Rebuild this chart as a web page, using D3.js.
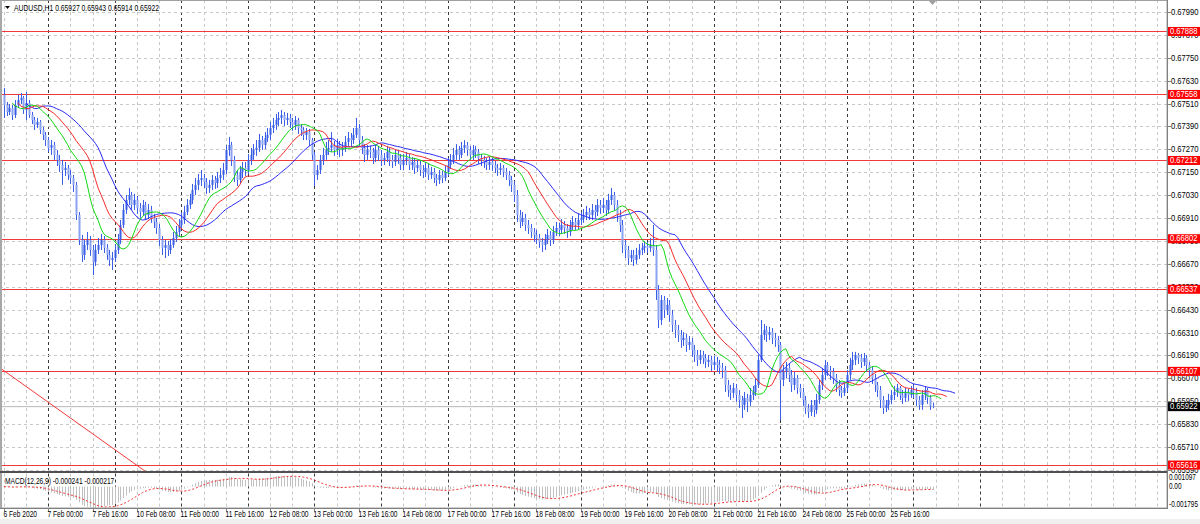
<!DOCTYPE html>
<html><head><meta charset="utf-8">
<script src="https://cdn.jsdelivr.net/npm/d3@7"></script>
<style>body{margin:0;background:#fff;overflow:hidden}svg{display:block;font-family:"Liberation Sans",Arial,sans-serif}</style>
</head><body><svg id="c" width="1200" height="524"></svg>
<script>
// ---------------- DATA ----------------
const symbolTitle = "AUDUSD,H1";
const lastBarOHLC = ["0.65927", "0.65943", "0.65914", "0.65922"];
const firstOpen = 0.67555;
const closes = [
0.67503,0.67466,0.67487,0.67450,0.67503,0.67529,0.67540,0.67477,
0.67513,0.67450,0.67424,0.67398,0.67414,0.67372,0.67346,0.67319,
0.67278,0.67293,0.67241,0.67215,0.67188,0.67162,0.67173,0.67136,
0.67120,0.67084,0.66926,0.66795,0.66717,0.66769,0.66795,0.66743,
0.66680,0.66743,0.66769,0.66795,0.66754,0.66717,0.66691,0.66701,
0.66743,0.66795,0.66874,0.66953,0.67005,0.67031,0.66979,0.67005,
0.66963,0.66942,0.66979,0.66926,0.66953,0.66911,0.66890,0.66858,
0.66795,0.66754,0.66769,0.66743,0.66769,0.66806,0.66837,0.66874,
0.66900,0.66942,0.66979,0.67005,0.67057,0.67084,0.67110,0.67120,
0.67099,0.67068,0.67084,0.67110,0.67094,0.67120,0.67136,0.67162,
0.67267,0.67293,0.67215,0.67136,0.67110,0.67152,0.67173,0.67162,
0.67215,0.67241,0.67267,0.67278,0.67319,0.67293,0.67330,0.67346,
0.67382,0.67398,0.67424,0.67435,0.67450,0.67424,0.67435,0.67414,
0.67398,0.67424,0.67382,0.67372,0.67346,0.67361,0.67319,0.67241,
0.67136,0.67162,0.67215,0.67241,0.67267,0.67278,0.67293,0.67267,
0.67293,0.67267,0.67278,0.67309,0.67330,0.67319,0.67346,0.67382,
0.67319,0.67278,0.67241,0.67267,0.67257,0.67225,0.67267,0.67241,
0.67215,0.67225,0.67257,0.67215,0.67204,0.67241,0.67225,0.67188,
0.67215,0.67225,0.67188,0.67204,0.67173,0.67188,0.67162,0.67152,
0.67173,0.67136,0.67152,0.67120,0.67110,0.67136,0.67120,0.67152,
0.67188,0.67215,0.67241,0.67267,0.67241,0.67278,0.67293,0.67267,
0.67241,0.67267,0.67257,0.67225,0.67215,0.67204,0.67188,0.67204,
0.67188,0.67173,0.67162,0.67173,0.67152,0.67136,0.67110,0.67084,
0.67031,0.66926,0.66890,0.66911,0.66874,0.66858,0.66837,0.66822,
0.66806,0.66785,0.66769,0.66795,0.66822,0.66795,0.66837,0.66858,
0.66848,0.66874,0.66858,0.66837,0.66874,0.66890,0.66874,0.66900,
0.66911,0.66926,0.66942,0.66926,0.66953,0.66942,0.66979,0.66963,
0.66979,0.66953,0.67005,0.67031,0.66979,0.66926,0.66874,0.66769,
0.66743,0.66701,0.66717,0.66691,0.66717,0.66743,0.66754,0.66764,
0.66754,0.66769,0.66743,0.66533,0.66376,0.66481,0.66429,0.66455,
0.66402,0.66350,0.66324,0.66298,0.66271,0.66282,0.66245,0.66261,
0.66219,0.66193,0.66167,0.66193,0.66177,0.66156,0.66167,0.66140,
0.66156,0.66140,0.66125,0.66114,0.66036,0.66009,0.65994,0.66020,
0.65983,0.65957,0.65931,0.65968,0.65947,0.65983,0.65999,0.66036,
0.66167,0.66298,0.66324,0.66298,0.66313,0.66282,0.66271,0.66245,
0.66062,0.66104,0.66125,0.66088,0.66036,0.66072,0.66020,0.65999,
0.65957,0.65915,0.65894,0.65931,0.65905,0.65957,0.66036,0.66088,
0.66140,0.66114,0.66104,0.66072,0.66036,0.66009,0.65994,0.66020,
0.66088,0.66140,0.66167,0.66193,0.66177,0.66156,0.66177,0.66140,
0.66114,0.66072,0.66036,0.66009,0.65957,0.65915,0.65931,0.65957,
0.65983,0.65999,0.66020,0.65983,0.65968,0.65999,0.65983,0.66009,
0.65999,0.65957,0.65931,0.65983,0.66009,0.65968,0.65927,0.65922];
const highs = [
0.67592,0.67518,0.67508,0.67503,0.67529,0.67555,0.67566,0.67550,
0.67571,0.67529,0.67466,0.67440,0.67435,0.67424,0.67388,0.67361,
0.67335,0.67319,0.67309,0.67267,0.67241,0.67215,0.67204,0.67188,
0.67162,0.67136,0.67099,0.66942,0.66822,0.66795,0.66837,0.66816,
0.66769,0.66774,0.66806,0.66827,0.66816,0.66774,0.66743,0.66733,
0.66774,0.66827,0.66900,0.66984,0.67031,0.67068,0.67047,0.67037,
0.67026,0.66989,0.67005,0.66995,0.66984,0.66974,0.66932,0.66911,
0.66879,0.66816,0.66795,0.66790,0.66801,0.66837,0.66869,0.66905,
0.66942,0.66974,0.67010,0.67037,0.67089,0.67120,0.67141,0.67162,
0.67141,0.67120,0.67110,0.67136,0.67131,0.67152,0.67173,0.67199,
0.67293,0.67335,0.67309,0.67236,0.67162,0.67183,0.67204,0.67204,
0.67246,0.67278,0.67298,0.67319,0.67351,0.67340,0.67361,0.67382,
0.67414,0.67435,0.67456,0.67466,0.67477,0.67466,0.67461,0.67456,
0.67435,0.67445,0.67435,0.67403,0.67388,0.67382,0.67377,0.67330,
0.67257,0.67188,0.67241,0.67278,0.67309,0.67319,0.67361,0.67314,
0.67325,0.67314,0.67309,0.67340,0.67361,0.67356,0.67382,0.67435,
0.67403,0.67340,0.67298,0.67293,0.67288,0.67278,0.67293,0.67288,
0.67267,0.67251,0.67288,0.67278,0.67241,0.67267,0.67267,0.67246,
0.67246,0.67257,0.67246,0.67230,0.67225,0.67215,0.67209,0.67188,
0.67204,0.67194,0.67178,0.67173,0.67141,0.67162,0.67157,0.67183,
0.67225,0.67246,0.67278,0.67298,0.67288,0.67309,0.67319,0.67309,
0.67288,0.67293,0.67288,0.67272,0.67246,0.67236,0.67225,0.67230,
0.67225,0.67209,0.67194,0.67199,0.67188,0.67173,0.67157,0.67131,
0.67104,0.67057,0.66953,0.66942,0.66932,0.66900,0.66879,0.66858,
0.66848,0.66827,0.66806,0.66827,0.66853,0.66842,0.66869,0.66890,
0.66885,0.66905,0.66895,0.66879,0.66900,0.66921,0.66911,0.66932,
0.66942,0.66958,0.66974,0.66963,0.66984,0.66979,0.67010,0.67005,
0.67016,0.67005,0.67037,0.67068,0.67047,0.67005,0.66953,0.66900,
0.66795,0.66764,0.66743,0.66743,0.66754,0.66774,0.66780,0.66790,
0.66785,0.66806,0.66874,0.66769,0.66559,0.66507,0.66502,0.66491,
0.66481,0.66429,0.66376,0.66350,0.66324,0.66313,0.66303,0.66292,
0.66282,0.66245,0.66219,0.66219,0.66214,0.66198,0.66193,0.66188,
0.66188,0.66183,0.66167,0.66151,0.66135,0.66062,0.66036,0.66046,
0.66041,0.66009,0.65978,0.65999,0.65989,0.66020,0.66030,0.66072,
0.66193,0.66376,0.66355,0.66345,0.66340,0.66334,0.66308,0.66292,
0.66261,0.66140,0.66156,0.66146,0.66114,0.66104,0.66088,0.66041,
0.66020,0.65978,0.65936,0.65957,0.65957,0.65989,0.66062,0.66125,
0.66167,0.66156,0.66135,0.66125,0.66093,0.66062,0.66030,0.66046,
0.66114,0.66177,0.66209,0.66209,0.66203,0.66198,0.66203,0.66193,
0.66156,0.66135,0.66093,0.66051,0.66030,0.65978,0.65957,0.65989,
0.66009,0.66030,0.66041,0.66030,0.66009,0.66020,0.66015,0.66030,
0.66036,0.66020,0.65978,0.66009,0.66030,0.66020,0.65983,0.65943];
const lows = [
0.67435,0.67445,0.67450,0.67424,0.67435,0.67487,0.67508,0.67456,
0.67424,0.67435,0.67403,0.67372,0.67382,0.67351,0.67319,0.67288,
0.67257,0.67241,0.67215,0.67183,0.67152,0.67084,0.67131,0.67110,
0.67089,0.67047,0.66900,0.66769,0.66680,0.66691,0.66743,0.66712,
0.66612,0.66659,0.66722,0.66743,0.66727,0.66691,0.66659,0.66638,
0.66680,0.66722,0.66774,0.66858,0.66932,0.66979,0.66953,0.66953,
0.66932,0.66911,0.66921,0.66900,0.66905,0.66885,0.66858,0.66827,
0.66764,0.66717,0.66701,0.66712,0.66722,0.66754,0.66785,0.66816,
0.66853,0.66879,0.66926,0.66958,0.66984,0.67031,0.67057,0.67078,
0.67068,0.67037,0.67042,0.67057,0.67063,0.67068,0.67094,0.67110,
0.67141,0.67236,0.67183,0.67099,0.67078,0.67089,0.67120,0.67131,
0.67141,0.67188,0.67215,0.67236,0.67257,0.67267,0.67272,0.67309,
0.67319,0.67356,0.67372,0.67393,0.67403,0.67393,0.67398,0.67382,
0.67367,0.67372,0.67351,0.67340,0.67319,0.67319,0.67288,0.67215,
0.67078,0.67110,0.67141,0.67188,0.67215,0.67241,0.67257,0.67236,
0.67241,0.67230,0.67236,0.67257,0.67283,0.67288,0.67298,0.67330,
0.67288,0.67246,0.67204,0.67215,0.67225,0.67194,0.67204,0.67209,
0.67183,0.67188,0.67204,0.67183,0.67173,0.67183,0.67194,0.67162,
0.67162,0.67188,0.67162,0.67162,0.67141,0.67152,0.67131,0.67120,
0.67125,0.67110,0.67115,0.67094,0.67078,0.67089,0.67094,0.67104,
0.67131,0.67167,0.67194,0.67215,0.67215,0.67225,0.67251,0.67236,
0.67215,0.67215,0.67225,0.67194,0.67183,0.67173,0.67162,0.67162,
0.67157,0.67146,0.67131,0.67136,0.67125,0.67110,0.67078,0.67047,
0.66995,0.66890,0.66858,0.66869,0.66843,0.66827,0.66806,0.66785,
0.66774,0.66754,0.66733,0.66743,0.66774,0.66764,0.66774,0.66816,
0.66816,0.66827,0.66827,0.66806,0.66816,0.66848,0.66848,0.66853,
0.66874,0.66885,0.66900,0.66900,0.66900,0.66911,0.66921,0.66932,
0.66937,0.66921,0.66932,0.66979,0.66948,0.66890,0.66837,0.66727,
0.66701,0.66664,0.66680,0.66659,0.66670,0.66696,0.66717,0.66727,
0.66727,0.66733,0.66712,0.66481,0.66334,0.66350,0.66387,0.66402,
0.66366,0.66313,0.66282,0.66261,0.66230,0.66240,0.66209,0.66219,
0.66183,0.66156,0.66135,0.66146,0.66146,0.66125,0.66130,0.66109,
0.66114,0.66104,0.66093,0.66072,0.65999,0.65973,0.65957,0.65968,
0.65947,0.65915,0.65863,0.65905,0.65894,0.65926,0.65957,0.65978,
0.66020,0.66156,0.66271,0.66261,0.66271,0.66250,0.66235,0.66209,
0.65852,0.66030,0.66072,0.66051,0.65999,0.66009,0.65989,0.65968,
0.65926,0.65884,0.65863,0.65873,0.65868,0.65884,0.65936,0.66009,
0.66062,0.66083,0.66062,0.66041,0.65999,0.65978,0.65968,0.65978,
0.65999,0.66062,0.66114,0.66140,0.66146,0.66125,0.66135,0.66104,
0.66072,0.66041,0.65999,0.65973,0.65915,0.65884,0.65894,0.65905,
0.65936,0.65957,0.65973,0.65957,0.65936,0.65947,0.65952,0.65968,
0.65968,0.65926,0.65905,0.65905,0.65957,0.65936,0.65905,0.65914];

const priceTicks = [0.67990,0.67870,0.67750,0.67630,0.67510,0.67390,0.67270,0.67150,0.67030,0.66910,0.66790,0.66670,0.66550,0.66430,0.66310,0.66190,0.66070,0.65950,0.65830,0.65710,0.65590];
const levelLines = [0.67888,0.67558,0.67212,0.66802,0.66537,0.66107,0.65616];
const lastPrice = 0.65922;
const trendLine = [{bar:-1.4, price:0.66125},{bar:60, price:0.65490}];
const xTickLabels = ["6 Feb 2020","7 Feb 00:00","7 Feb 16:00","10 Feb 08:00","11 Feb 00:00","11 Feb 16:00","12 Feb 08:00","13 Feb 00:00","13 Feb 16:00","14 Feb 08:00","17 Feb 00:00","17 Feb 16:00","18 Feb 08:00","19 Feb 00:00","19 Feb 16:00","20 Feb 08:00","21 Feb 00:00","21 Feb 16:00","24 Feb 08:00","25 Feb 00:00","25 Feb 16:00"];
const xTickBars = [0,16,32,48,64,80,96,112,128,144,160,176,192,208,224,240,256,272,288,304,320];
const daySeparatorBars = [16,40,64,88,112,136,160,184,208,232,256,280,304,328,352];
const alligator = [ // Bill Williams Alligator: period, shift, colour
  {name:"jaw", period:13, shift:8, color:"#2a2af5"},
  {name:"teeth", period:8, shift:5, color:"#f52a2a"},
  {name:"lips", period:5, shift:3, color:"#12d812"}];
const macdParams = {fast:12, slow:26, signal:9};
const macdLabel = "MACD(12,26,9) -0.000241 -0.000217";
const macdTicks = [0.001097, 0, -0.001795];
const macdTickLabels = ["0.001097","0.00","-0.001795"];

// ---------------- LAYOUT ----------------
const svg = d3.select("#c");
const plotL = 0, plotR = 1167, mainT = 0, mainB = 471, macdT = 473.5, macdB = 508;
const barStep = 2.773, bar0X = 3.9;
const N = closes.length;
const opens = closes.map((c,i)=> i===0 ? firstOpen : closes[i-1]);
const x = d3.scaleLinear().domain([0, 420]).range([bar0X, bar0X + 420*barStep]);
const y = d3.scaleLinear().domain([0.65590, 0.67990]).range([470, 12]);
const ym = d3.scaleLinear().domain([-0.001795, 0.001097]).range([macdB, macdT]);

svg.append("rect").attr("width",1200).attr("height",524).attr("fill","#fff");
svg.append("rect").attr("x",0).attr("y",519).attr("width",1200).attr("height",5).attr("fill","#f0f0f0");

const defs = svg.append("defs");
defs.append("clipPath").attr("id","mainClip").append("rect").attr("x",plotL).attr("y",mainT).attr("width",plotR-plotL).attr("height",mainB-mainT);
defs.append("clipPath").attr("id","macdClip").append("rect").attr("x",plotL).attr("y",macdT).attr("width",plotR-plotL).attr("height",macdB-macdT);

// grid
const grid = svg.append("g");
const gridBars = d3.range(0, 421, 8).filter(b => x(b) < plotR - 1);
[[mainT, mainB],[macdT, macdB]].forEach(([t,b])=>{
  grid.selectAll(null).data(gridBars.filter(g=>!daySeparatorBars.includes(g))).enter().append("line")
    .attr("x1",d=>Math.round(x(d))+0.5).attr("x2",d=>Math.round(x(d))+0.5).attr("y1",t).attr("y2",b)
    .attr("stroke","#c8c8c8").attr("stroke-dasharray","3,3");
  grid.selectAll(null).data(daySeparatorBars).enter().append("line")
    .attr("x1",d=>Math.round(x(d))+0.5).attr("x2",d=>Math.round(x(d))+0.5).attr("y1",t).attr("y2",b)
    .attr("stroke","#3a3a3a").attr("stroke-dasharray","3,3");
});
grid.selectAll(null).data(priceTicks).enter().append("line")
  .attr("x1",plotL).attr("x2",plotR).attr("y1",d=>Math.round(y(d))+0.5).attr("y2",d=>Math.round(y(d))+0.5)
  .attr("stroke","#c8c8c8").attr("stroke-dasharray","3,3");

// main panel objects
const main = svg.append("g").attr("clip-path","url(#mainClip)");
main.append("line").attr("x1",plotL).attr("x2",plotR).attr("y1",y(lastPrice)).attr("y2",y(lastPrice))
  .attr("stroke","#b8b8b8").attr("stroke-width",1);
main.selectAll(null).data(levelLines).enter().append("line")
  .attr("x1",plotL).attr("x2",plotR).attr("y1",d=>Math.round(y(d))+0.5).attr("y2",d=>Math.round(y(d))+0.5)
  .attr("stroke","#f03a3a").attr("stroke-width",1);
main.append("line").attr("x1",x(trendLine[0].bar)).attr("y1",y(trendLine[0].price))
  .attr("x2",x(trendLine[1].bar)).attr("y2",y(trendLine[1].price)).attr("stroke","#f03a3a").attr("stroke-width",1);

// candles
const bars = d3.range(N).map(i=>({i, o:opens[i], h:Math.max(highs[i],opens[i],closes[i]), l:Math.min(lows[i],opens[i],closes[i]), c:closes[i]}));
const cg = main.append("g");
cg.selectAll(null).data(bars).enter().append("line")
  .attr("x1",d=>Math.round(x(d.i))+0.5).attr("x2",d=>Math.round(x(d.i))+0.5)
  .attr("y1",d=>y(d.h)).attr("y2",d=>y(d.l)).attr("stroke","#3a5ee6").attr("stroke-width",1);
cg.selectAll(null).data(bars).enter().append("rect")
  .attr("x",d=>Math.round(x(d.i))-0.5).attr("width",2)
  .attr("y",d=>Math.min(y(d.o),y(d.c))).attr("height",d=>Math.max(1,Math.abs(y(d.o)-y(d.c))))
  .attr("fill",d=>d.c>=d.o ? "#3a5ee6" : "#8aa2f2");

// alligator (SMMA of median price, shifted forward)
const median = bars.map(d=>(d.h+d.l)/2);
alligator.forEach(a=>{
  const s = []; let sum = 0;
  median.forEach((m,i)=>{
    if(i < a.period){ sum += m; s.push(sum/(i+1)); }
    else s.push((s[i-1]*(a.period-1)+m)/a.period);
  });
  const pts = s.map((v,i)=>[i + a.shift, v]);
  main.append("path").datum(pts)
    .attr("d", d3.line().x(d=>x(d[0])).y(d=>y(d[1])))
    .attr("fill","none").attr("stroke",a.color).attr("stroke-width",1);
});

// MACD
const ema = (arr,n)=>{const k=2/(n+1); const out=[]; arr.forEach((v,i)=>out.push(i===0?v:v*k+out[i-1]*(1-k))); return out;};
const e1 = ema(closes, macdParams.fast), e2 = ema(closes, macdParams.slow);
const macd = closes.map((_,i)=>e1[i]-e2[i]);
const sig = macd.map((_,i)=>{const s=Math.max(0,i-macdParams.signal+1); return d3.mean(macd.slice(s,i+1));});
const mg = svg.append("g").attr("clip-path","url(#macdClip)");
mg.selectAll(null).data(macd).enter().append("line")
  .attr("x1",(d,i)=>Math.round(x(i))+0.5).attr("x2",(d,i)=>Math.round(x(i))+0.5)
  .attr("y1",ym(0)).attr("y2",d=>ym(d)).attr("stroke","#c0c0c0").attr("stroke-width",1);
mg.append("path").datum(sig).attr("d", d3.line().x((d,i)=>x(i)).y(d=>ym(d)))
  .attr("fill","none").attr("stroke","#f03030").attr("stroke-width",1).attr("stroke-dasharray","2,2");

// frames
svg.append("rect").attr("x",0.5).attr("y",0.5).attr("width",plotR-0.5).attr("height",macdB-0.5)
  .attr("fill","none").attr("stroke","#a0a0a0");
svg.append("rect").attr("x",0).attr("y",0).attr("width",2).attr("height",macdB).attr("fill","#a8a8a8");
svg.append("rect").attr("x",0).attr("y",mainB).attr("width",plotR).attr("height",2).attr("fill","#505050");
svg.append("line").attr("x1",plotR+0.5).attr("x2",plotR+0.5).attr("y1",0).attr("y2",macdB+1).attr("stroke","#808080");
svg.append("line").attr("x1",0).attr("x2",plotR+1).attr("y1",macdB+0.5).attr("y2",macdB+0.5).attr("stroke","#808080");

// text helper (slightly condensed like the MT4 screenshot)
function label(g, tx, ty, s, size, sx, fill, anchor){
  return g.append("text").attr("transform",`translate(${tx},${ty}) scale(${sx},1)`)
    .attr("font-size",size).attr("fill",fill||"#000").attr("dominant-baseline","central")
    .attr("text-anchor",anchor||"start").text(s);
}

// right price axis
const ax = svg.append("g");
priceTicks.forEach(p=>{
  const yy = Math.round(y(p))+0.5;
  ax.append("line").attr("x1",plotR).attr("x2",plotR+4).attr("y1",yy).attr("y2",yy).attr("stroke","#808080");
  label(ax, 1171, yy, p.toFixed(5), 8.5, 0.9);
});
levelLines.forEach(p=>{
  const yy = y(p);
  ax.append("rect").attr("x",1168).attr("y",yy-4.5).attr("width",32).attr("height",9).attr("fill","#ff0000");
  label(ax, 1170, yy, p.toFixed(5), 8.5, 0.9, "#fff");
});
ax.append("rect").attr("x",1168).attr("y",y(lastPrice)-4.5).attr("width",32).attr("height",9).attr("fill","#000");
label(ax, 1170, y(lastPrice), lastPrice.toFixed(5), 8.5, 0.9, "#fff");
macdTicks.forEach((v,i)=>{
  const yy = [477.5, 486, 504][i];
  label(ax, 1169, yy, macdTickLabels[i], 8.5, 0.76);
});

// time axis
const tx = svg.append("g");
xTickBars.forEach((b,i)=>{
  const xx = Math.round(x(b))+0.5;
  tx.append("line").attr("x1",xx).attr("x2",xx).attr("y1",macdB).attr("y2",macdB+4).attr("stroke","#808080");
  label(tx, xx-1, 514.5, xTickLabels[i], 8.5, 0.78);
});

// titles
svg.append("path").attr("d","M5,6 L10,6 L7.5,9 Z").attr("fill","#000");
label(svg, 14, 8, symbolTitle + "  " + lastBarOHLC.join(" "), 8.5, 0.8);
label(svg, 5, 481.5, macdLabel, 8.5, 0.78);
svg.append("path").attr("d","M929,1 L936,1 L932.5,5 Z").attr("fill","#a0a0a0");
</script></body></html>
